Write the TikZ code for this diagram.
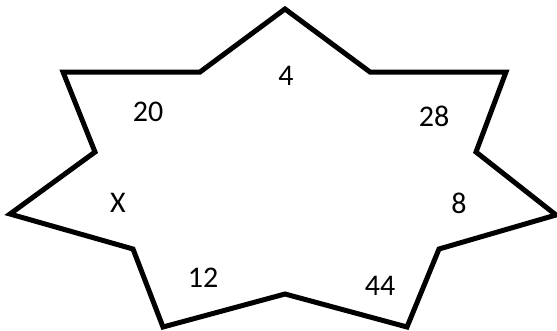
\documentclass[tikz,border=0pt]{standalone}
\usepackage{fontspec}
\setmainfont{Carlito}
\usepackage{tikz}
\usetikzlibrary{positioning,calc}

\begin{document}
\begin{tikzpicture}[x=1pt, y=-1pt,
    outline/.style={draw=black, line width=5pt, line join=miter},
    num/.style={font=\fontsize{30}{35}\selectfont, inner sep=0pt}]

\useasboundingbox (0,0) rectangle (557,330);

% star outline
\draw[outline] (285,9) -- (370,72) -- (506,72) -- (476,152) -- (556,215)
    -- (439,249) -- (407,327) -- (285,294) -- (163,327) -- (133,249)
    -- (10,214) -- (95,152) -- (63,72) -- (200,72) -- cycle;

% numbers
\node[num] (top) at (286,76) {4};
\node[num] (upleft) at (148,112) {20};
\node[num] (upright) at (434,116) {28};
\node[num] (left) at (118,203) {X};
\node[num] (right) at (459,203) {8};
\node[num] (lowleft) at (203,278) {12};
\node[num] (lowright) at (380,286) {44};
\end{tikzpicture}
\end{document}
